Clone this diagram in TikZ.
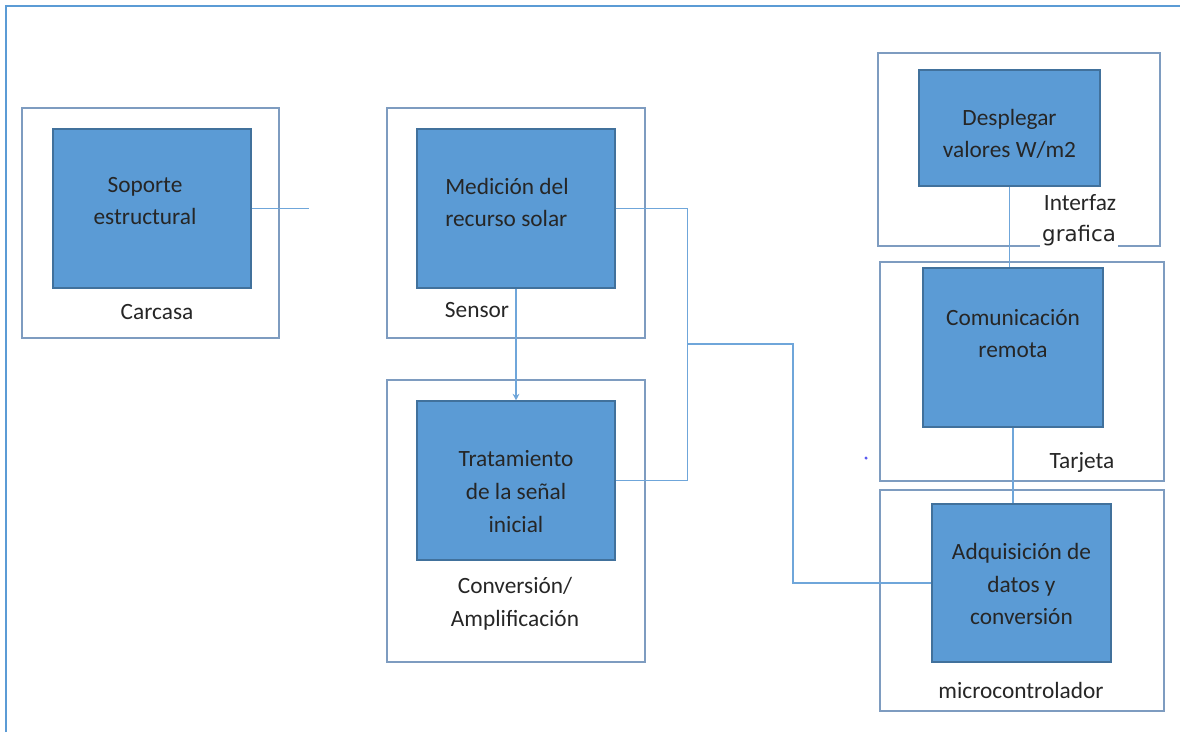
\documentclass[tikz,border=0pt]{standalone}
\usepackage{fontspec}
\setmainfont{Carlito}
\newfontfamily\grafont{DejaVu Sans}
\usetikzlibrary{arrows.meta}
\definecolor{blockblue}{HTML}{5B9BD5}
\definecolor{blockedge}{HTML}{41719C}
\definecolor{framegray}{HTML}{7E9CC0}
\definecolor{wireblue}{HTML}{6FA6DA}
\definecolor{edgeblue}{HTML}{5B9BD5}
\definecolor{textgray}{HTML}{262626}
\definecolor{dotblue}{HTML}{5A5AF0}
\tikzset{
	frame/.style={draw=framegray, line width=1.6pt, inner sep=0pt},
	block/.style={draw=blockedge, fill=blockblue, line width=0.8pt, inner sep=0pt},
	txt/.style={text=textgray, align=center, inner sep=0pt,
		font=\fontsize{17.5}{24.5}\selectfont},
	wire/.style={draw=wireblue, line width=1.1pt}
}
\begin{document}
\begin{tikzpicture}[x=0.75pt, y=-0.75pt]
	\useasboundingbox (0,0) rectangle (1180,732);
	\draw[edgeblue, line width=2pt] (6,732) -- (6,6) -- (1180,6);
	% marcos
	\node[frame, minimum width=192.75pt, minimum height=172.5pt] (fCar) at (150.5,223) {};
	\node[frame, minimum width=193.5pt, minimum height=172.5pt] (fSen) at (516,223) {};
	\node[frame, minimum width=193.5pt, minimum height=211.5pt] (fCon) at (516,521) {};
	\node[frame, minimum width=211.5pt, minimum height=144.75pt] (fInt) at (1019,149.5) {};
	\node[frame, minimum width=213pt, minimum height=164.25pt] (fTar) at (1022,371.5) {};
	\node[frame, minimum width=213pt, minimum height=165.75pt] (fMic) at (1022,600.5) {};
	% bloques
	\node[block, minimum width=148.5pt, minimum height=119.25pt] (bSop) at (152,208.5) {};
	\node[block, minimum width=148.5pt, minimum height=119.25pt] (bMed) at (516,208.5) {};
	\node[block, minimum width=148.5pt, minimum height=119.25pt] (bTra) at (516,480.5) {};
	\node[block, minimum width=135.75pt, minimum height=87pt] (bDes) at (1009.5,128) {};
	\node[block, minimum width=135pt, minimum height=119.25pt] (bCom) at (1013,347.5) {};
	\node[block, minimum width=134.25pt, minimum height=118.5pt] (bAdq) at (1021.5,583) {};
	% textos
	\node[txt] (tSop) at (145,201) {Soporte\\estructural};
	\node[txt, align=left] (tMed) at (507,202.5) {Medición del\\recurso solar};
	\node[txt] (tTra) at (516,491.5) {Tratamiento\\de la señal\\inicial};
	\node[txt] (tDes) at (1009.5,134) {Desplegar\\valores W/m2};
	\node[txt] (tCom) at (1013,333.5) {Comunicación\\remota};
	\node[txt] (tAdq) at (1021.5,584) {Adquisición de\\datos y\\conversión};
	\node[txt] (lCar) at (157,312) {Carcasa};
	\node[txt] (lSen) at (477,310) {Sensor};
	\node[txt] (lCon) at (515,603.5) {Conversión/\\Amplificación};
	\node[txt] (lInt) at (1080,203) {Interfaz};
	\node[txt, fill=white, font=\grafont\fontsize{16}{19}\selectfont,
		minimum width=58.5pt, minimum height=19.5pt] (lGra) at (1079,236) {grafica};
	\node[txt] (lTar) at (1082,462) {Tarjeta};
	\node[txt] (lMic) at (1021,690) {microcontrolador};
	% conexiones
	\coordinate (cSop) at (309,208.5);
	\coordinate (jBus) at (687,344);
	\coordinate (kBus) at (793,344);
	\draw[wire] (bSop.east) -- (cSop);
	\draw[wire, -{Stealth[length=5pt, width=5pt]}] (bMed.south) -- (bTra.north);
	\draw[wire] (bMed.east) -- ++(72,0) |- (bTra.east);
	\draw[wire] (jBus) -- (kBus) |- (bAdq.west);
	\draw[wire] (bDes.south) -- (bDes.south |- bCom.north);
	\draw[wire] (bCom.south) -- (bCom.south |- bAdq.north);
	\fill[dotblue] (866,458) circle (1.3pt);
\end{tikzpicture}
\end{document}
